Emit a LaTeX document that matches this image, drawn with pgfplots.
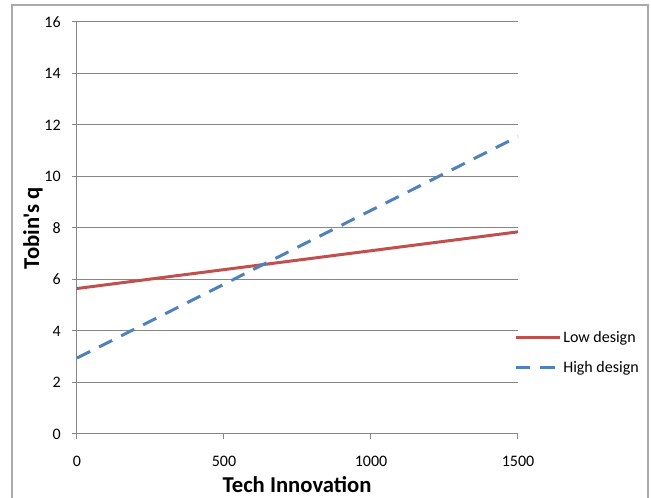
\documentclass[border=0pt]{standalone}
\usepackage{pgfplots}
\pgfplotsset{compat=1.18}
\usepackage{fontspec}
\setmainfont{Carlito}[Ligatures=TeXOff]
\definecolor{lowred}{RGB}{192,80,77}
\definecolor{highblue}{RGB}{79,129,189}
\definecolor{gridgray}{RGB}{134,134,134}
\definecolor{framegray}{RGB}{170,170,170}
\begin{document}
\begin{tikzpicture}
% page size: 651 x 498 px at 0.75pt per px
\useasboundingbox (0,0) rectangle (488.25pt,373.5pt);
% outer chart frame (bottom edge runs off the page)
\draw[framegray, line width=1.2pt] (9pt,-2pt) -- (9pt,369.75pt) -- (486pt,369.75pt) -- (486pt,-2pt);
\begin{axis}[
  at={(57.75pt,48pt)}, anchor=south west,
  scale only axis, width=330.75pt, height=309pt,
  xmin=0, xmax=1500, ymin=0, ymax=16,
  xtick={0,500,1000,1500}, ytick={0,2,...,16},
  axis lines=left, axis line style={gridgray, line width=0.75pt, -},
  tick align=outside, major tick length=3.75pt,
  tick style={gridgray, line width=0.75pt},
  ymajorgrids, grid style={gridgray, line width=0.75pt},
  /pgf/number format/assume math mode=true,
  /pgf/number format/1000 sep={},
  ticklabel style={font=\fontsize{12}{14}\selectfont},
  xticklabel style={yshift=-9pt},
  yticklabel style={xshift=-5pt},
  xlabel={\textbf{Tech Innovation}}, ylabel={\textbf{Tobin's q}},
  label style={font=\fontsize{17}{19}\selectfont, inner sep=1pt},
  xlabel style={at={(axis description cs:0.499,-0.1235)}, anchor=center},
  ylabel style={at={(axis description cs:-0.0998,0.5)}, anchor=center, rotate=0},
  legend style={at={(0.991,0.255)}, anchor=north west, draw=none, fill=none,
    inner sep=0pt, row sep=9.5pt, font=\fontsize{12}{14}\selectfont,
    nodes={inner sep=1.5pt, anchor=west}},
  legend cell align=left,
  legend image code/.code={\draw[#1] (0pt,0pt) -- (33pt,0pt);},
  clip=false,
]
\addplot[lowred, line width=2.25pt] coordinates {(0,5.65) (1500,7.85)};
\addlegendentry{Low design}
\addplot[highblue, line width=2.25pt, dash pattern=on 11pt off 7.5pt] coordinates {(0,2.95) (1500,11.55)};
\addlegendentry{High design}
\end{axis}
\end{tikzpicture}
\end{document}
